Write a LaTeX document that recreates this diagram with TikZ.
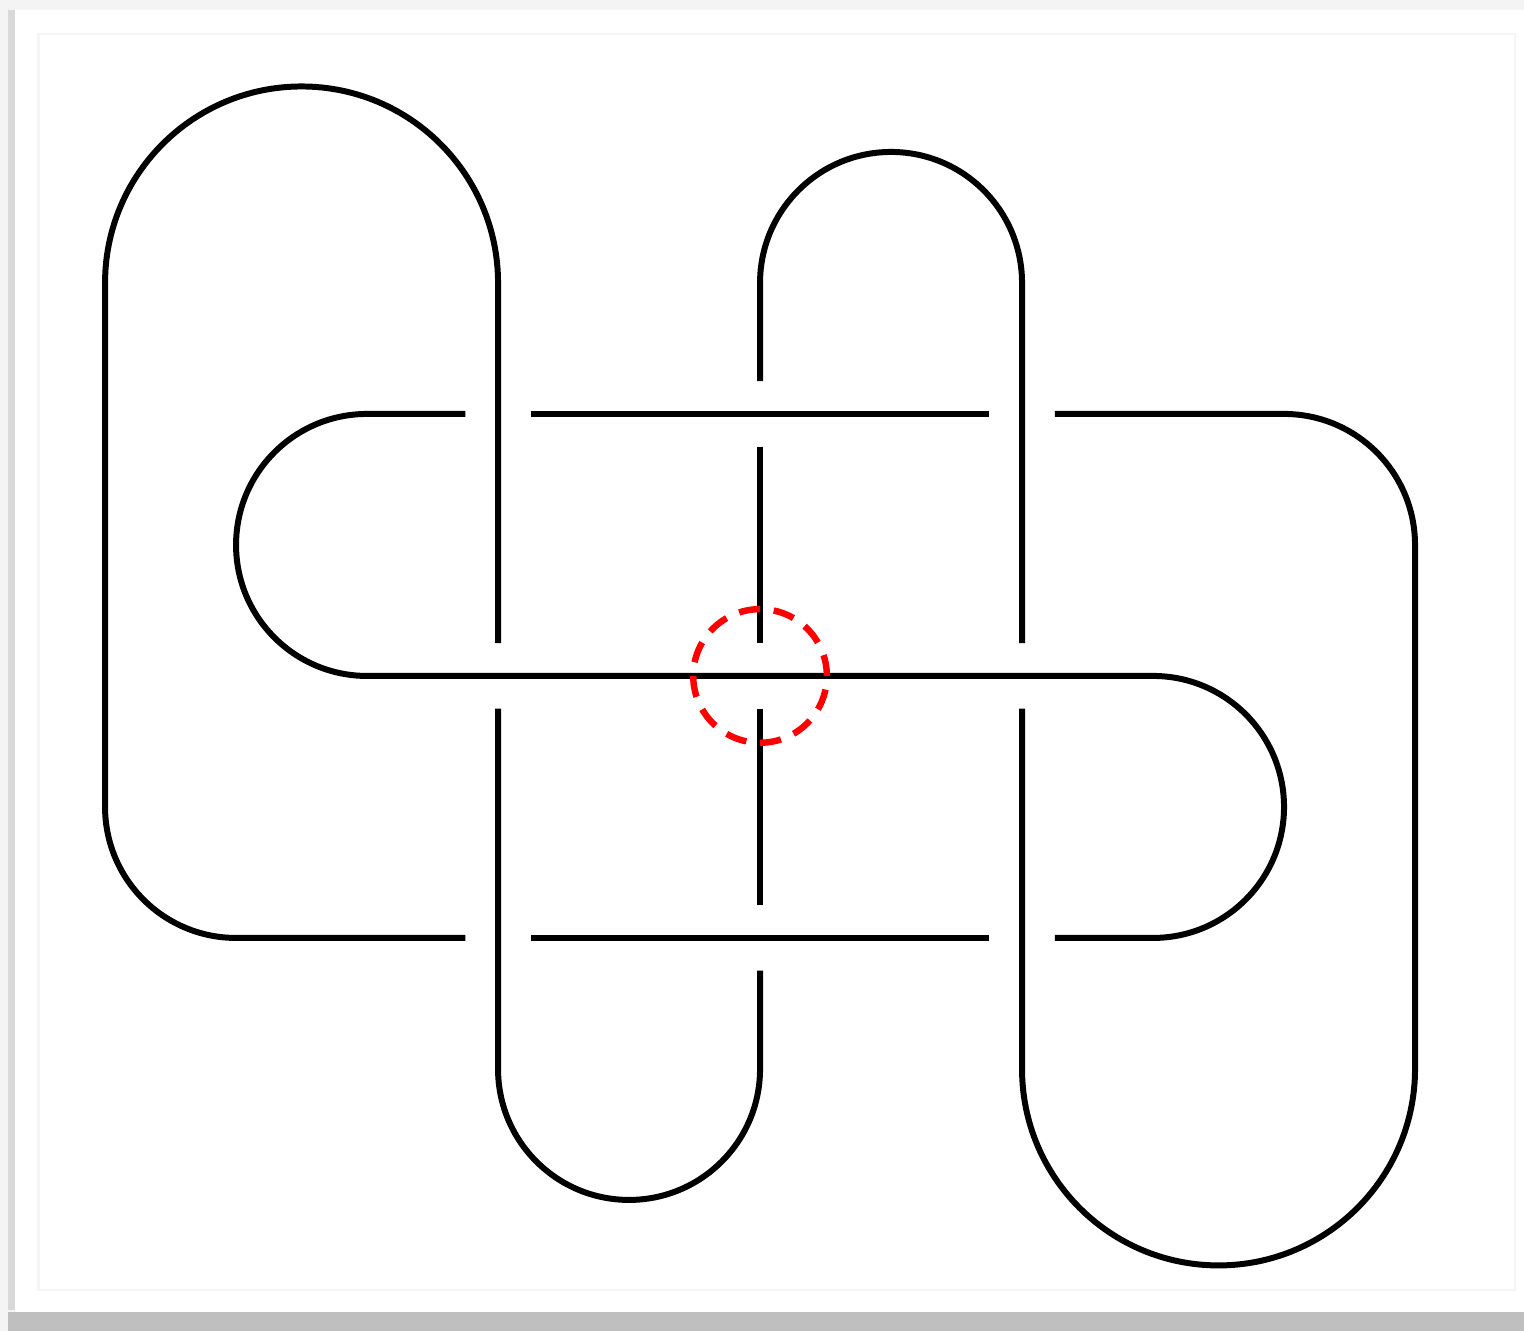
\documentclass[tikz,border=0pt]{standalone}
\usetikzlibrary{backgrounds}

\begin{document}
\begin{tikzpicture}[
    strand/.style={line width=1.3pt, black},
    marker/.style={line width=1.4pt, red, dash pattern=on 4.6pt off 3pt}
]

    % ===== Frame =====
    \useasboundingbox (-0.802, 2.160) rectangle (10.832, -8.000);
    \fill[gray!9] (-0.802, 2.160) rectangle (10.832, -8.000);
    \fill[gray!30] (-0.740, 2.084) rectangle (-0.687, -7.840);
    \fill[gray!50] (-0.740, -7.855) rectangle (10.832, -8.000);
    \fill[white] (-0.687, 2.084) rectangle (10.832, -7.855);
    \draw[gray!8, line width=0.6pt] (-0.511, 1.901) rectangle (10.763, -7.687);

    % ===== Knot =====
    \begin{scope}
        % left lobe
        \draw[strand] (3, -2.75) -- (3, 0) arc (0:180:1.5) -- (0, -4)
            arc (180:270:1) -- (2.75, -5);
        \draw[strand] (3.25, -5) -- (6.75, -5);

        % lower right loop, back along row 3
        \draw[strand] (7.25, -5) -- (8, -5) arc (-90:90:1) -- (2, -3)
            arc (270:90:1) -- (2.75, -1);
        \draw[strand] (3.25, -1) -- (6.75, -1);

        % right lobe
        \draw[strand] (7.25, -1) -- (9, -1) arc (90:0:1) -- (10, -6)
            arc (0:-180:1.5) -- (7, -3.25);

        % top arch
        \draw[strand] (7, -2.75) -- (7, 0) arc (0:180:1) -- (5, -0.75);

        % middle column
        \draw[strand] (5, -1.25) -- (5, -2.75);
        \draw[strand] (5, -3.25) -- (5, -4.75);

        % bottom arch
        \draw[strand] (5, -5.25) -- (5, -6) arc (0:-180:1) -- (3, -3.25);
    \end{scope}

    % ===== Crossing marker =====
    \draw[marker] (5, -3) circle (0.51);

\end{tikzpicture}
\end{document}
